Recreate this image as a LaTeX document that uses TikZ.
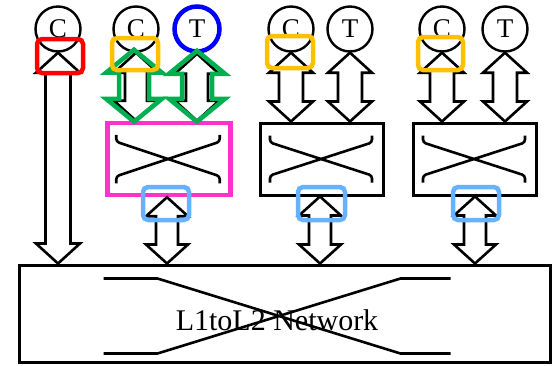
\documentclass[tikz,border=0pt]{standalone}
\usepackage{fontspec}
\setmainfont{Liberation Serif}
\usetikzlibrary{calc}
\definecolor{hlred}{HTML}{FF0000}
\definecolor{hlorange}{HTML}{FFC000}
\definecolor{hlblue}{HTML}{0000FF}
\definecolor{hlgreen}{HTML}{00B050}
\definecolor{hlpink}{HTML}{FF33CC}
\definecolor{hlsky}{HTML}{66B2FF}
% #1 style, #2 top point, #3 bottom point, #4 head half width, #5 shaft half width, #6 head length
\newcommand\blockarrow[6]{%
  \draw[#1] let \p1=#2, \p2=#3 in
   (\x1,\y1) -- (\x1+#4,\y1-#6) -- (\x1+#5,\y1-#6) -- (\x1+#5,\y2+#6) -- (\x1+#4,\y2+#6)
   -- (\x1,\y2) -- (\x1-#4,\y2+#6) -- (\x1-#5,\y2+#6) -- (\x1-#5,\y1-#6) -- (\x1-#4,\y1-#6) -- cycle;}
\tikzset{
  core/.style={circle, draw, line width=2.4pt, minimum size=45pt, inner sep=0pt,
    font=\fontsize{27}{27}\selectfont},
  switchbox/.style={draw, line width=3pt, minimum width=123pt, minimum height=72pt, inner sep=0pt},
  netbox/.style={draw, line width=3pt, minimum width=531pt, minimum height=97pt, inner sep=0pt},
  cross/.style={line width=2.6pt, rounded corners=3pt},
  barr/.style={draw, fill=white, line width=2.6pt, line join=miter},
  garr/.style={draw=hlgreen, line width=4.5pt, line join=miter},
  hl/.style={line width=4.5pt, rounded corners=5pt},
}
\begin{document}
\begin{tikzpicture}[x=1pt, y=-1pt]
\useasboundingbox (0,0) rectangle (558,365);
% cores and tiles
\node[core] (cC1) at (58,29) {C};
\node[core] (cC2) at (136,29) {C};
\node[core, draw=hlblue, line width=4.5pt] (cT1) at (197,29) {T};
\node[core] (cC3) at (291,29) {C};
\node[core] (cT2) at (350,29) {T};
\node[core] (cC4) at (442,29) {C};
\node[core] (cT3) at (505,29) {T};
% switch boxes
\node[switchbox, draw=hlpink, line width=4.5pt] (sw1) at (169,159) {};
\node[switchbox] (sw2) at (322,159) {};
\node[switchbox] (sw3) at (475,159) {};
% network
\node[netbox] (net) at (284.5,313.5) {};
\node[font=\fontsize{30}{30}\selectfont] (netlabel) at (277,320) {L1toL2 Network};
% crosses in switch boxes
\foreach \s in {sw1,sw2,sw3}{
  \draw[cross] ($(\s.north west)+(11,14)$) -- ($(\s.north west)+(11,21)$)
     -- ($(\s.south east)+(-13,-21)$) -- ($(\s.south east)+(-13,-14)$);
  \draw[cross] ($(\s.north east)+(-13,14)$) -- ($(\s.north east)+(-13,21)$)
     -- ($(\s.south west)+(11,-21)$) -- ($(\s.south west)+(11,-14)$);
}
% cross in network
\draw[line width=2.6pt] ($(net.north west)+(86,15)$) -- ($(net.north west)+(140,15)$)
   -- ($(net.south west)+(383,-10)$) -- ($(net.south west)+(433,-10)$);
\draw[line width=2.6pt] ($(net.south west)+(86,-10)$) -- ($(net.south west)+(140,-10)$)
   -- ($(net.north west)+(383,15)$) -- ($(net.north west)+(433,15)$);
% block arrows
\blockarrow{barr}{(cC1.south)}{(net.north -| cC1)}{22pt}{12.5pt}{20pt}
\blockarrow{barr}{(cC2.south)}{(sw1.north -| cC2)}{22pt}{11pt}{20pt}
\blockarrow{barr}{(cT1.south)}{(sw1.north -| cT1)}{22pt}{11pt}{20pt}
\blockarrow{barr}{(cC3.south)}{(sw2.north -| cC3)}{22pt}{12pt}{20pt}
\blockarrow{barr}{(cT2.south)}{(sw2.north -| cT2)}{22pt}{12pt}{20pt}
\blockarrow{barr}{(cC4.south)}{(sw3.north -| cC4)}{22pt}{12pt}{20pt}
\blockarrow{barr}{(cT3.south)}{(sw3.north -| cT3)}{22pt}{12pt}{20pt}
\blockarrow{barr}{($(sw1.south)+(-2,0)$)}{(net.north)}{21pt}{11pt}{19pt}
\blockarrow{barr}{($(sw2.south)+(-2,0)$)}{(net.north)}{21pt}{11pt}{19pt}
\blockarrow{barr}{(sw3.south)}{(net.north)}{21pt}{11pt}{19pt}
% green highlight arrows
\blockarrow{garr}{($(cC2.south)+(-2,-3)$)}{($(sw1.north)+(0,1)$)}{28pt}{15pt}{23pt}
\blockarrow{garr}{($(cT1.south)+(0,-3)$)}{($(sw1.north)+(0,1)$)}{28pt}{15pt}{23pt}
% highlight boxes
\draw[hl, hlred] (37,39) rectangle (83,73);
\draw[hl, hlorange] (112,38) rectangle (158,70);
\draw[hl, hlorange] (267,36) rectangle (313,68);
\draw[hl, hlorange] (418,37) rectangle (463,70);
\draw[hl, hlsky] (143,187) rectangle (189,220);
\draw[hl, hlsky] (298,187) rectangle (345,220);
\draw[hl, hlsky] (453,187) rectangle (499,220);
\end{tikzpicture}
\end{document}
